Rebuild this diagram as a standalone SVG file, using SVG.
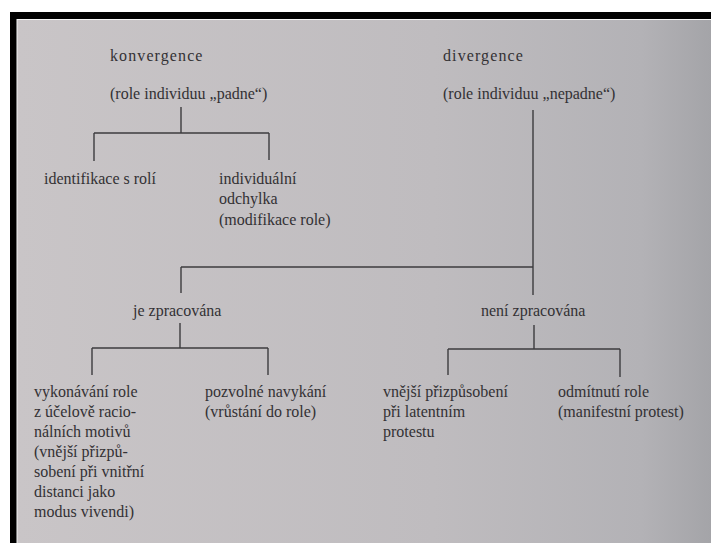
<svg xmlns="http://www.w3.org/2000/svg" width="711" height="543" viewBox="0 0 711 543">
<defs>
<linearGradient id="page" x1="0" y1="0" x2="1" y2="0">
<stop offset="0" stop-color="#c9c5c7"/>
<stop offset="0.6" stop-color="#bfbcbf"/>
<stop offset="0.9" stop-color="#b3b2b6"/>
<stop offset="1" stop-color="#a4a4a8"/>
</linearGradient>
<style>
text{font-family:'Liberation Serif','DejaVu Serif',serif;font-size:16px;fill:#333134}
.t{letter-spacing:1.1px}
.c line{stroke:#3c3b3e;stroke-width:1.4;fill:none}
</style>
</defs>
<rect x="0" y="0" width="711" height="543" fill="#ffffff"/>
<rect x="10" y="12" width="701" height="531" fill="#000000"/>
<rect x="16.5" y="19" width="694.5" height="524" fill="#f4f4f4"/>
<rect x="17.5" y="20" width="693.5" height="523" fill="url(#page)"/>

<g id="connectors" class="c">
<line x1="181" y1="107" x2="181" y2="133"/>
<line x1="94" y1="133" x2="269" y2="133"/>
<line x1="94" y1="133" x2="94" y2="161"/>
<line x1="269" y1="133" x2="269" y2="160"/>
<line x1="533" y1="110" x2="533" y2="295"/>
<line x1="181" y1="267" x2="533" y2="267"/>
<line x1="181" y1="267" x2="181" y2="293"/>
<line x1="180" y1="323" x2="180" y2="348"/>
<line x1="92" y1="348" x2="268" y2="348"/>
<line x1="92" y1="348" x2="92" y2="375"/>
<line x1="268" y1="348" x2="268" y2="375"/>
<line x1="534" y1="325" x2="534" y2="349"/>
<line x1="448" y1="349" x2="620" y2="349"/>
<line x1="448" y1="349" x2="448" y2="375"/>
<line x1="620" y1="349" x2="620" y2="377"/>
</g>

<g font-family="Liberation Serif, DejaVu Serif, serif" font-size="16">
<g id="konvergence">
<text class="t" x="110" y="61">konvergence</text>
<text x="110" y="99">(role individuu „padne“)</text>
</g>
<g id="divergence">
<text class="t" x="443" y="61">divergence</text>
<text x="443" y="99">(role individuu „nepadne“)</text>
</g>
<g id="identifikace">
<text x="44" y="184">identifikace s rolí</text>
</g>
<g id="odchylka">
<text x="219" y="184">individuální</text>
<text x="219" y="204">odchylka</text>
<text x="219" y="225">(modifikace role)</text>
</g>
<g id="je-zpracovana">
<text x="133" y="316">je zpracována</text>
</g>
<g id="neni-zpracovana">
<text x="481" y="316">není zpracována</text>
</g>
<g id="vykonavani">
<text x="34" y="397">vykonávání role</text>
<text x="34" y="417">z účelově racio-</text>
<text x="34" y="437">nálních motivů</text>
<text x="34" y="457">(vnější přizpů-</text>
<text x="34" y="477">sobení při vnitřní</text>
<text x="34" y="497">distanci jako</text>
<text x="34" y="517">modus vivendi)</text>
</g>
<g id="pozvolne">
<text x="205" y="397">pozvolné navykání</text>
<text x="205" y="417">(vrůstání do role)</text>
</g>
<g id="vnejsi">
<text x="383" y="397">vnější přizpůsobení</text>
<text x="383" y="417">při latentním</text>
<text x="383" y="437">protestu</text>
</g>
<g id="odmitnuti">
<text x="558" y="397">odmítnutí role</text>
<text x="558" y="417">(manifestní protest)</text>
</g>
</g>
</svg>
